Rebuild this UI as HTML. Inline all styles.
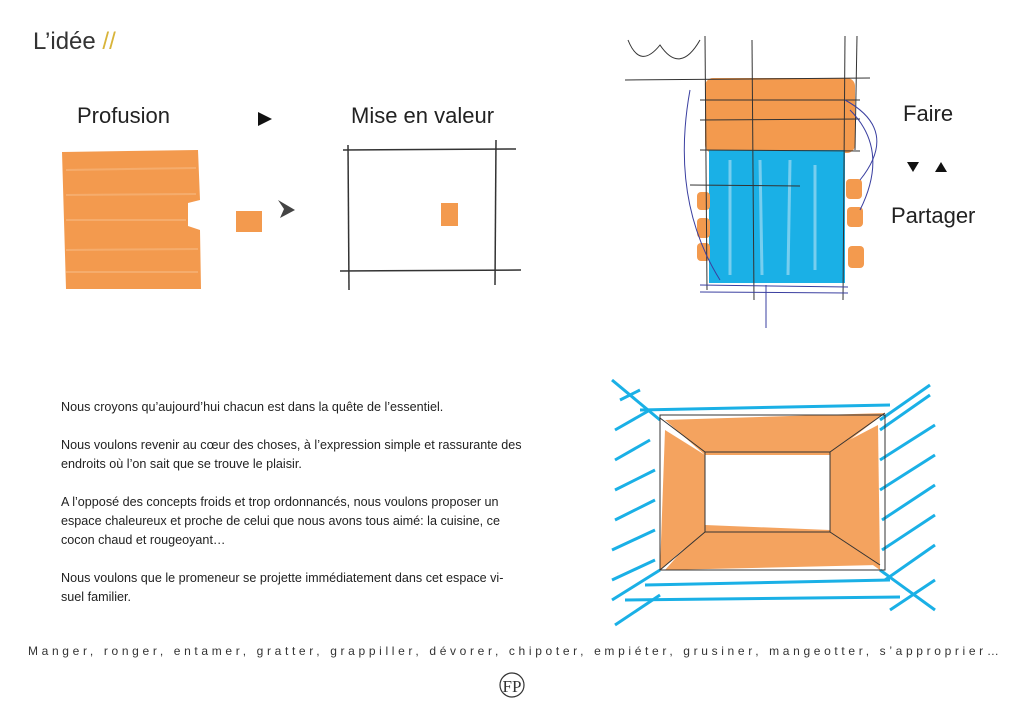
<!DOCTYPE html>
<html><head><meta charset="utf-8"><style>
body{margin:0;width:1024px;height:721px;background:#fff;overflow:hidden;position:relative;font-family:"Liberation Sans",sans-serif;color:#222}
.t{position:absolute;font-weight:300;white-space:nowrap}
p{margin:0 0 19px 0;white-space:nowrap}
</style></head><body>
<div class="t" style="left:33px;top:28px;font-size:24px;color:#333">L’idée <span style="color:#d8b43a">//</span></div>
<div class="t" style="left:77px;top:103px;font-size:22px">Profusion</div>
<div class="t" style="left:351px;top:103px;font-size:22px">Mise en valeur</div>
<div class="t" style="left:903px;top:101px;font-size:22px">Faire</div>
<div class="t" style="left:891px;top:203px;font-size:22px">Partager</div>
<svg style="position:absolute;left:0;top:0" width="1024" height="721">
<polygon points="258,112 272,119 258,126" fill="#111"/>
<polygon points="907,162 919,162 913,172" fill="#111"/>
<polygon points="935,172 947,172 941,162" fill="#111"/>
<path d="M62,152 L198,150 L200,200 L188,203 L188,226 L200,230 L201,289 L66,289 Z" fill="#f39a4e"/>
<g stroke="#f7b57a" stroke-width="2" opacity=".7"><line x1="66" y1="170" x2="196" y2="168"/><line x1="66" y1="195" x2="196" y2="194"/><line x1="66" y1="220" x2="186" y2="220"/><line x1="66" y1="250" x2="198" y2="249"/><line x1="66" y1="272" x2="198" y2="272"/></g>
<rect x="236" y="211" width="26" height="21" fill="#f39a4e"/>
<polygon points="278,200 295,210 280,218 284,209" fill="#444"/>
<g stroke="#333" stroke-width="1.5" fill="none"><line x1="348" y1="145" x2="349" y2="290"/><line x1="496" y1="140" x2="495" y2="285"/><line x1="343" y1="150" x2="516" y2="149"/><line x1="340" y1="271" x2="521" y2="270"/></g>
<rect x="441" y="203" width="17" height="23" fill="#f39a4e"/>
<rect x="705" y="78" width="150" height="75" rx="8" fill="#f39a4e"/>
<rect x="709" y="150" width="136" height="133" fill="#1ab0e6"/>
<g stroke="#9fdcf3" stroke-width="3" opacity=".7"><line x1="730" y1="160" x2="730" y2="275"/><line x1="760" y1="160" x2="762" y2="275"/><line x1="790" y1="160" x2="788" y2="275"/><line x1="815" y1="165" x2="815" y2="270"/></g>
<g fill="#f39a4e"><rect x="697" y="192" width="13" height="18" rx="4"/><rect x="697" y="218" width="13" height="20" rx="4"/><rect x="697" y="243" width="13" height="18" rx="4"/><rect x="846" y="179" width="16" height="20" rx="4"/><rect x="847" y="207" width="16" height="20" rx="4"/><rect x="848" y="246" width="16" height="22" rx="4"/></g>
<g stroke="#333" stroke-width="1" fill="none"><line x1="625" y1="80" x2="870" y2="78"/><line x1="700" y1="100" x2="860" y2="100"/><line x1="700" y1="120" x2="860" y2="119"/><line x1="700" y1="150" x2="860" y2="151"/><line x1="705" y1="36" x2="707" y2="290"/><line x1="752" y1="40" x2="754" y2="300"/><line x1="845" y1="36" x2="843" y2="300"/><line x1="857" y1="36" x2="855" y2="150"/><path d="M628,40 Q640,70 660,45 Q680,75 700,40"/><line x1="690" y1="185" x2="800" y2="186"/></g>
<g stroke="#3a3fa0" stroke-width="1" fill="none"><path d="M845,100 Q900,130 860,180"/><path d="M850,110 Q890,150 860,210"/><path d="M690,90 Q670,200 720,280"/><line x1="700" y1="285" x2="848" y2="287"/><line x1="700" y1="292" x2="848" y2="293"/><line x1="766" y1="285" x2="766" y2="328"/></g>
<g stroke="#1ab0e6" stroke-width="3" fill="none">
<line x1="612" y1="380" x2="660" y2="420"/><line x1="612" y1="600" x2="660" y2="570"/><line x1="930" y1="385" x2="880" y2="420"/><line x1="935" y1="610" x2="880" y2="570"/>
<path d="M620,400 L640,390 M615,430 L650,410 M615,460 L650,440 M615,490 L655,470 M615,520 L655,500 M612,550 L655,530 M612,580 L655,560 M615,625 L660,595"/>
<path d="M880,430 L930,395 M880,460 L935,425 M880,490 L935,455 M882,520 L935,485 M882,550 L935,515 M885,580 L935,545 M890,610 L935,580"/>
<line x1="640" y1="410" x2="890" y2="405"/><line x1="645" y1="585" x2="890" y2="580"/><line x1="625" y1="600" x2="900" y2="597"/>
</g>
<g fill="#f39a4e" opacity=".9"><polygon points="665,420 885,413 830,455 705,455"/><polygon points="665,430 705,455 705,530 660,570"/><polygon points="830,450 878,425 880,570 830,535"/><polygon points="705,525 830,530 878,565 665,570"/></g>
<g stroke="#333" stroke-width="1" fill="none"><rect x="705" y="452" width="125" height="80"/><line x1="660" y1="418" x2="705" y2="452"/><line x1="885" y1="413" x2="830" y2="452"/><line x1="660" y1="570" x2="705" y2="532"/><line x1="880" y1="565" x2="830" y2="532"/><rect x="660" y="415" width="225" height="155"/></g>
<circle cx="512" cy="685" r="12" stroke="#333" fill="none" stroke-width="1.2"/>
<text x="512" y="692" font-family="Liberation Serif" font-size="17" text-anchor="middle" fill="#333">FP</text>
</svg>
<div style="position:absolute;left:61px;top:398px;font-size:12.6px;line-height:19px;color:#222">
<p>Nous croyons qu’aujourd’hui chacun est dans la quête de l’essentiel.</p>
<p>Nous voulons revenir au cœur des choses, à l’expression simple et rassurante des<br>endroits où l’on sait que se trouve le plaisir.</p>
<p>A l’opposé des concepts froids et trop ordonnancés, nous voulons proposer un<br>espace chaleureux et proche de celui que nous avons tous aimé: la cuisine, ce<br>cocon chaud et rougeoyant…</p>
<p>Nous voulons que le promeneur se projette immédiatement dans cet espace vi-<br>suel familier.</p>
</div>
<div class="t" style="left:28px;top:644px;font-size:12px;letter-spacing:3.65px;color:#333">Manger, ronger, entamer, gratter, grappiller, dévorer, chipoter, empiéter, grusiner, mangeotter, s’approprier…</div>
</body></html>
